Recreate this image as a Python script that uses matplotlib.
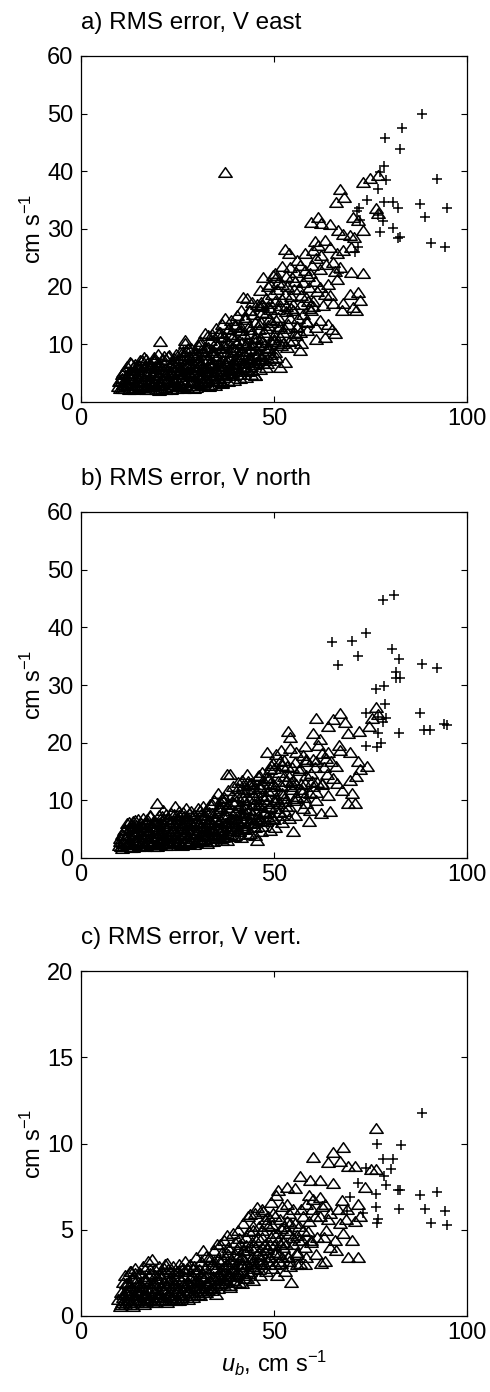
import matplotlib
matplotlib.use("Agg")
import matplotlib.pyplot as plt
from matplotlib.path import Path

plt.rcParams['font.family'] = ['Liberation Sans', 'DejaVu Sans']
plt.rcParams['mathtext.fontset'] = 'custom'
plt.rcParams['mathtext.rm'] = 'Liberation Sans'
plt.rcParams['mathtext.it'] = 'Liberation Sans:italic'

# ---------------- data (u_b, RMS error) ----------------
east_tri = [
 (9.5,2.8),(9.8,3.6),(10.2,2.5),(10.5,4.2),(10.8,3.2),(11,5.2),(11.2,2.4),(11.5,4.0),(11.8,6.3),(12,3.0),
 (12.3,5.0),(12.5,2.3),(12.8,4.4),(13,6.8),(13.2,3.5),(13.5,2.6),(13.8,5.5),(14,4.2),(14.2,3.0),(14.5,6.2),
 (14.8,2.4),(15,5.0),(15.3,7.2),(15.5,3.6),(15.8,4.6),(16,2.6),(16.3,6.0),(16.5,3.2),(16.8,7.5),(17,4.5),
 (17.3,2.2),(17.5,5.6),(17.8,3.8),(18,6.6),(18.2,2.8),(18.5,4.8),(18.8,7.8),(19,3.4),(19.3,5.9),(19.5,2.3),
 (19.8,4.2),(20,6.9),(20.2,3.0),(20.5,10.5),(20.8,5.2),(21,2.5),(21.3,7.5),(21.5,3.8),(21.8,5.8),(22,2.2),
 (22.3,4.6),(22.5,8.0),(22.8,3.2),(23,6.3),(23.3,2.7),(23.5,5.0),(23.8,7.0),(24,3.6),(24.3,4.3),(24.5,8.4),
 (24.8,2.5),(25,6.0),(25.3,3.3),(25.5,5.4),(25.8,7.6),(26,2.8),(26.3,4.8),(26.5,8.8),(26.8,3.8),(27,10.2),
 (27.3,6.5),(27.5,2.6),(27.8,5.2),(28,7.9),(28.3,3.5),(28.5,9.3),(28.8,4.5),(29,6.8),(29.3,2.5),(29.5,5.8),
 (29.8,8.6),(30,3.6),(30.3,7.2),(30.5,4.8),(30.8,10.0),(31,3.0),(31.3,6.0),(31.5,8.8),(31.8,4.2),(32,12.0),
 (32.2,5.4),(32.5,9.6),(32.8,3.6),(33,7.4),(33.3,10.8),(33.5,4.8),(33.8,6.4),(34,11.8),(34.3,3.8),(34.5,8.2),
 (34.8,5.6),(35,12.8),(35.3,9.8),(35.5,4.2),(35.8,7.0),(36,11.2),(36.3,5.6),(36.5,13.5),(36.8,8.6),(37,4.4),
 (37.3,14.6),(37.5,6.4),(37.8,10.4),(38,12.6),(38.3,5.0),(38.5,8.0),(38.8,14.2),(39,6.8),(39.3,11.4),(39.5,4.6),
 (39.8,9.2),(40,13.2),(40.3,6.0),(40.5,15.0),(40.8,7.6),(41,10.8),(41.3,4.8),(41.5,12.4),(41.8,8.8),(42,18.2),
 (42.3,6.2),(42.5,14.4),(42.8,10.0),(43,18.0),(43.3,5.4),(43.5,16.0),(43.8,7.8),(44,12.0),(44.3,9.4),(44.5,15.2),
 (44.8,6.6),(45,4.6),(45.3,11.2),(45.5,17.0),(45.8,8.4),(46,13.6),(46.3,19.4),(46.5,5.8),(46.8,10.4),(47,15.6),
 (47.2,21.7),(47.5,7.2),(47.8,12.8),(48,18.0),(48.3,6.7),(48.5,9.6),(48.8,16.4),(49,20.4),(49.3,8.4),(49.5,13.8),
 (49.8,22.0),(50,11.0),(50.3,17.6),(50.5,7.8),(50.8,19.6),(51,14.8),(51.1,20.8),(51.5,6.1),(51.8,9.8),(52,23.6),
 (52.3,12.2),(52.8,7.0),(52.9,26.6),(53,16.6),(53.3,20.2),(53.8,25.8),(54,10.6),(54.1,23.4),(54.5,18.4),(55,15.9),
 (55,10.7),(55.5,21.0),(56,13.2),(56.7,23.7),(56.7,9.0),(57,18.6),(57.1,10.2),(57.5,15.3),(58,25.8),(58,22.9),
 (58.5,12.4),(59,20.0),(59.2,22.3),(59.7,31.2),(59.7,15.9),(60,17.6),(60.5,28.0),(61,24.9),(61,11.0),(61.4,32.1),
 (61.4,27.2),(61.9,20.0),(61.9,14.2),(62.3,31.0),(62.3,25.5),(63.2,28.1),(63.2,18.8),(63.2,11.3),(64,20.5),(64,13.6),
 (64.5,30.8),(64.5,26.9),(64.9,12.7),(65.3,24.3),(65.3,17.1),(65.7,11.9),(66,34.7),(66.2,25.8),(66.2,21.4),(66.6,29.8),
 (67,37.0),(67,23.4),(67.5,15.9),(68.2,35.6),(67.9,29.2),(67.9,26.3),(67.9,17.1),(69.6,28.9),(69.6,18.8),(70,26.9),
 (70,22.6),(70.5,32.1),(70.5,16.5),(70.7,28.6),(71.3,15.9),(71.8,31.5),(71.8,19.1),(72.2,17.7),(73.1,38.2),(73.1,29.8),
 (73.1,22.3),(74.8,38.8),(76.5,33.6),(77,39.4),(77,32.7),(37.3,39.9),(26.9,10.7),(30.8,3.8),(45.0,4.6),(47.2,6.7),
]
east_tri_core = [
 (10.6,2.4),(12.1,2.9),(13.7,2.2),(15.2,2.7),(16.9,2.3),(18.4,2.8),(20.1,2.1),(21.7,2.6),(23.4,2.3),(25.1,2.9),
 (26.6,2.4),(28.2,3.0),(29.9,2.6),(31.6,3.1),(33.2,2.8),
 (10.1,3.9),(11.7,3.5),(13.1,4.3),(14.6,3.7),(16.2,4.1),(17.7,3.6),(19.4,4.4),(20.9,3.8),(22.6,4.2),(24.2,3.5),
 (25.9,4.0),(27.4,4.5),(29.1,3.7),(30.7,4.3),(32.4,3.9),(34.1,4.6),(35.7,3.8),(37.4,4.9),(39.1,5.2),
 (11.4,5.6),(12.9,5.1),(14.4,5.8),(16.0,5.3),(17.6,6.0),(19.1,5.2),(20.7,5.7),(22.2,5.4),(23.9,6.1),(25.4,5.5),
 (27.0,5.9),(28.6,5.3),(30.2,6.2),(31.9,5.6),(33.6,6.0),(35.2,5.4),(36.9,6.3),(38.6,5.8),(40.2,6.6),(41.9,6.1),(43.6,6.9),
 (12.6,7.0),(14.1,6.6),(15.7,7.3),(17.2,6.8),(18.9,7.1),(20.4,6.5),(22.0,7.4),(23.6,6.9),(25.2,7.2),(26.9,6.7),
 (28.4,7.5),(30.1,7.0),(31.7,7.3),(33.4,6.8),(35.0,7.6),(36.7,7.2),(38.3,7.7),(40.0,7.4),(41.7,8.0),(43.4,7.6),
 (45.1,8.2),(46.7,7.9),
 (19.9,8.4),(22.9,8.1),(25.6,8.7),(28.9,8.3),(31.2,9.0),(33.8,8.6),(36.2,9.3),(38.9,8.8),(41.3,9.6),(43.9,9.1),
 (46.2,9.8),(48.6,9.3),(50.9,10.2),
 (30.9,10.6),(34.6,10.2),(37.1,11.4),(39.6,10.8),(42.2,11.8),(44.7,11.1),(47.4,12.2),(49.9,11.6),(52.6,12.8),(55.4,12.0),
 (39.9,13.6),(42.6,14.8),(45.2,13.9),(47.9,15.4),(50.4,14.2),(53.1,15.8),(56.2,14.6),(59.1,16.3),
 (46.6,17.4),(49.4,18.8),(52.2,17.8),(55.1,19.6),(58.3,18.2),(61.2,19.2),
]
east_tri_fill = [
 (11.0,3.1),(12.6,3.4),(14.2,3.2),(15.8,3.5),(17.4,3.0),(19.0,3.3),(20.6,3.1),(22.2,3.5),(23.8,3.2),(25.4,3.4),
 (27.0,3.1),(28.6,3.6),(30.2,3.3),(31.8,3.5),(33.4,3.2),(35.0,3.7),(36.6,3.4),
 (10.6,4.8),(12.2,4.6),(13.8,5.0),(15.4,4.7),(17.0,5.1),(18.6,4.6),(20.2,4.9),(21.8,4.7),(23.4,5.2),(25.0,4.8),
 (26.6,5.0),(28.2,4.7),(29.8,5.3),(31.4,4.9),(33.0,5.2),(34.6,4.8),(36.2,5.4),(37.8,5.0),(39.4,5.6),(41.0,5.3),
 (42.6,5.8),(44.2,5.5),
 (13.4,6.0),(15.0,6.4),(16.6,6.1),(18.2,6.5),(19.8,6.2),(21.4,6.6),(23.0,6.3),(24.6,6.7),(26.2,6.2),(27.8,6.6),
 (29.4,6.4),(31.0,6.8),(32.6,6.3),(34.2,6.9),(35.8,6.5),(37.4,7.0),(39.0,6.6),(40.6,7.2),(42.2,6.8),(43.8,7.4),
 (45.4,7.0),(47.0,7.6),(48.6,7.3),
 (16.4,7.8),(19.0,7.5),(21.6,8.0),(24.2,7.7),(26.8,8.2),(29.6,7.8),(32.4,8.4),(35.2,8.0),(37.8,8.6),(40.6,8.3),
 (43.0,8.8),(45.8,8.5),(48.0,9.0),(50.2,8.7),
 (27.8,9.4),(30.2,9.8),(32.8,9.5),(35.4,10.0),(37.6,9.6),(40.2,10.2),(42.6,9.9),(45.0,10.4),(47.6,10.1),(50.0,10.6),
 (52.4,10.3),
 (36.0,12.2),(38.4,12.8),(41.0,12.4),(43.4,13.1),(46.0,12.6),(48.4,13.3),(51.0,12.8),(53.6,13.6),(56.0,13.0),(58.6,13.8),
 (43.8,16.0),(46.4,16.6),(49.0,16.1),(51.6,16.8),(54.4,16.3),(57.0,17.0),(60.2,16.6),
 (50.2,22.4),(53.0,21.8),(55.8,22.6),(58.8,21.9),
]
east_tri_mid = [
 (34.8,3.0),(36.4,3.3),(38.0,3.6),(39.6,3.9),(41.2,4.2),(42.8,4.4),(44.0,4.8),
 (26.1,5.8),(29.0,6.1),(31.5,5.9),(34.0,6.6),(36.0,5.9),(38.0,6.9),(40.0,5.9),(42.0,7.0),(44.0,6.2),(46.0,7.3),
 (48.0,6.1),(49.6,7.6),
 (27.3,9.0),(30.0,8.2),(32.0,9.3),(34.3,9.0),(36.8,9.9),(39.2,9.6),(41.6,10.4),(44.2,10.0),(46.6,10.9),(49.2,10.5),
 (51.6,11.2),(53.4,9.6),(55.8,11.6),
 (33.0,11.6),(35.6,12.0),(38.6,11.8),(41.4,13.0),(43.8,12.6),(46.6,13.8),(48.8,14.4),(51.6,13.2),(54.2,14.6),(56.8,12.2),
 (58.4,14.0),(60.8,13.0),
 (41.4,16.0),(44.2,17.4),(46.8,16.8),(49.0,17.2),(51.0,16.2),(52.8,18.8),(54.8,17.0),(56.6,19.6),(58.8,17.6),(60.6,21.0),
 (62.6,16.8),(64.6,18.6),
 (48.4,20.2),(50.6,21.6),(52.0,20.4),(54.6,21.6),(56.0,24.6),(57.4,20.8),(59.8,23.8),(62.0,23.0),(63.6,24.0),(65.8,22.8),
 (60.2,26.4),
]
east_plus = [
 (88.4,49.9),(83.2,47.6),(78.7,45.8),(82.6,43.8),(78.6,41.0),(77.4,39.8),(79.0,38.5),(92.1,38.7),(77.0,36.9),(74.2,35.1),
 (78.4,34.6),(80.8,34.6),(82.0,33.6),(87.7,34.3),(94.7,33.7),(89.2,32.1),(78.3,31.4),(80.8,30.2),(77.4,29.4),(82.6,28.6),
 (82.1,28.4),(90.6,27.5),(94.2,26.9),(71.9,33.6),(72.2,31.5),(71.7,26.9),(70.9,26.0),(66.8,22.4),(77.0,32.4),(71.5,33.1),
]

north_tri = [
 (9.8,2.2),(10.2,3.0),(10.5,1.8),(10.8,4.0),(11,2.6),(11.3,5.0),(11.5,3.4),(11.8,2.0),(12,6.0),(12.3,4.2),
 (12.5,2.8),(12.8,5.4),(13,1.9),(13.3,3.6),(13.5,6.4),(13.8,4.6),(14,2.4),(14.3,5.8),(14.5,3.2),(14.8,6.8),
 (15,2.0),(15.3,4.4),(15.5,5.6),(15.8,2.8),(16,7.0),(16.3,3.8),(16.5,5.0),(16.8,2.2),(17,6.2),(17.3,3.4),
 (17.5,4.8),(17.8,7.2),(18,2.6),(18.3,5.6),(18.5,3.8),(18.8,6.6),(19,2.0),(19.3,4.4),(19.6,9.6),(19.8,5.6),
 (20,3.0),(20.3,7.4),(20.5,2.4),(20.8,4.8),(21,6.4),(21.3,8.4),(21.5,3.4),(21.8,5.2),(22,2.2),(22.3,7.0),
 (22.5,4.0),(22.8,6.0),(23,2.8),(23.3,7.8),(23.5,4.6),(23.8,3.4),(24,5.8),(24.3,9.0),(24.5,2.6),(24.8,6.8),
 (25,4.2),(25.3,3.0),(25.5,7.4),(25.8,5.2),(26,2.4),(26.3,8.0),(26.5,4.0),(26.8,6.2),(27,3.0),(27.3,8.7),
 (27.5,5.0),(27.8,7.0),(28,2.6),(28.3,4.4),(28.5,8.2),(28.8,5.8),(29,3.4),(29.3,7.4),(29.5,4.8),(29.8,2.8),
 (30,6.4),(30.3,8.6),(30.5,3.8),(30.8,5.4),(31,7.6),(31.3,3.2),(31.5,9.0),(31.8,4.6),(32,6.8),(32.3,3.0),
 (32.5,8.2),(32.8,5.2),(33,4.0),(33.3,9.4),(33.5,6.2),(33.8,3.4),(34,7.8),(34.3,5.0),(34.5,10.0),(34.8,4.2),
 (35,6.8),(35.5,11.3),(35.3,3.6),(35.8,8.4),(36,5.4),(36.3,9.6),(36.5,4.4),(36.8,7.2),(37,10.6),(37.3,3.8),
 (37.7,14.5),(37.5,6.0),(37.8,8.8),(38,11.8),(38.3,4.8),(38.6,14.5),(38.8,7.0),(39,9.8),(39.3,5.6),(39.5,12.4),
 (39.8,4.0),(40,8.0),(40.3,10.8),(40.5,6.4),(40.8,13.2),(41,4.6),(41.3,9.2),(41.6,13.6),(41.8,7.4),(42,11.4),
 (42.3,5.2),(42.9,14.5),(42.5,8.6),(43,12.0),(43.3,6.0),(43.5,10.2),(43.8,4.4),(44,13.0),(44.3,7.8),(44.6,12.8),
 (44.8,9.4),(45,5.4),(45.5,3.2),(45.3,11.4),(45.8,14.2),(46,7.0),(46.3,9.8),(46.5,12.2),(46.8,5.6),(47,15.0),
 (47.2,13.6),(47.5,8.2),(47.8,10.8),(48,6.4),(48.1,18.3),(48.3,14.0),(48.5,11.6),(48.9,4.9),(49,9.0),(49.3,16.2),
 (49.5,7.0),(49.8,12.8),(50,15.6),(50.3,5.4),(50.6,18.0),(50.8,10.2),(51,13.4),(51.3,8.0),(51.5,16.8),(51.9,18.8),
 (52,6.2),(52.3,11.0),(52.5,14.2),(53,9.0),(53.3,16.0),(53.7,22.0),(54.1,20.9),(54.1,19.1),(54.5,12.4),(55,4.6),
 (55,13.6),(55.5,7.4),(55.8,18.3),(56,10.4),(56.5,15.2),(57.1,11.9),(57.5,8.6),(58,13.0),(58.4,16.8),(59,6.4),
 (59.3,11.3),(59.3,8.4),(60.1,21.7),(60.5,15.7),(61,24.3),(61,10.0),(62,20.6),(62.3,7.8),(62.5,13.0),(63.9,22.9),
 (63.9,18.3),(64.5,8.1),(65.3,24.1),(65.3,13.9),(66.2,13.0),(67,25.2),(67,18.8),(68.3,23.5),(69.1,21.7),(69.6,18.3),
 (69.6,13.6),(69.2,9.6),(70.1,11.3),(70.9,9.6),(71.3,14.2),(71.8,16.8),(72.1,22.0),(72.2,15.4),(74.0,15.9),(74.6,22.9),
 (75.5,24.3),(76.5,26.1),(77,24.9),(66,16.0),(64,11.0),(60,12.5),(58,19.5),(63,15.8),(67.5,11.8),
]
north_tri_core = [
 (10.4,2.0),(11.9,2.4),(13.4,1.9),(15.0,2.3),(16.6,2.0),(18.1,2.5),(19.7,2.1),(21.3,2.6),(22.9,2.2),(24.5,2.7),
 (26.1,2.3),(27.7,2.8),(29.3,2.4),(30.9,2.9),(32.6,2.6),
 (10.0,3.4),(11.6,3.0),(13.1,3.7),(14.7,3.2),(16.2,3.8),(17.8,3.1),(19.4,3.6),(20.9,3.3),(22.5,3.9),(24.1,3.2),
 (25.7,3.7),(27.3,3.4),(28.9,3.9),(30.5,3.3),(32.1,3.8),(33.7,3.5),(35.3,4.0),(36.9,3.6),(38.5,4.2),
 (11.2,4.8),(12.7,5.2),(14.3,4.6),(15.9,5.3),(17.4,4.7),(19.0,5.1),(20.6,4.5),(22.2,5.2),(23.8,4.9),(25.4,5.4),
 (27.0,4.6),(28.6,5.1),(30.2,4.8),(31.8,5.5),(33.4,4.9),(35.0,5.3),(36.6,5.0),(38.2,5.6),(39.8,5.2),(41.4,5.8),
 (43.0,5.4),(44.6,6.0),
 (12.4,6.2),(14.0,6.6),(15.6,6.1),(17.1,6.7),(18.7,6.3),(20.3,6.0),(21.9,6.8),(23.5,6.4),(25.1,6.9),(26.7,6.3),
 (28.3,6.6),(29.9,6.2),(31.5,6.9),(33.1,6.5),(34.7,7.0),(36.3,6.6),(37.9,7.2),(39.5,6.8),(41.1,7.4),(42.7,7.0),
 (44.3,7.6),(45.9,7.2),(47.5,7.8),
 (22.1,7.7),(25.3,8.2),(28.1,7.8),(30.7,8.4),(33.2,8.0),(35.9,8.7),(38.4,8.3),(40.9,8.9),(43.6,8.5),(46.1,9.2),
 (48.7,8.8),(51.2,9.5),(53.8,9.0),
 (36.4,10.4),(39.2,11.0),(41.9,10.6),(44.4,11.5),(47.0,11.0),(49.6,11.8),(52.1,11.2),(54.7,12.0),(57.3,11.4),
 (43.2,13.4),(46.0,14.4),(48.8,13.8),(51.4,15.0),(54.0,14.2),(56.8,15.6),(59.6,14.8),
]
north_tri_fill = [
 (11.0,2.7),(12.6,3.0),(14.2,2.6),(15.8,2.9),(17.4,2.7),(19.0,3.0),(20.6,2.8),(22.2,3.1),(23.8,2.8),(25.4,3.2),
 (27.0,2.9),(28.6,3.2),(30.2,2.9),(31.8,3.3),(33.4,3.0),(35.0,3.4),(36.6,3.1),
 (10.6,4.2),(12.2,4.0),(13.8,4.4),(15.4,4.1),(17.0,4.3),(18.6,4.0),(20.2,4.4),(21.8,4.1),(23.4,4.3),(25.0,4.0),
 (26.6,4.4),(28.2,4.2),(29.8,4.5),(31.4,4.2),(33.0,4.6),(34.6,4.3),(36.2,4.7),(37.8,4.4),(39.4,4.8),(41.0,4.6),
 (42.6,5.0),
 (13.4,5.8),(15.0,5.5),(16.6,5.9),(18.2,5.6),(19.8,6.0),(21.4,5.7),(23.0,6.1),(24.6,5.8),(26.2,6.0),(27.8,5.7),
 (29.4,6.1),(31.0,5.8),(32.6,6.2),(34.2,5.9),(35.8,6.3),(37.4,6.0),(39.0,6.4),(40.6,6.1),(42.2,6.6),(43.8,6.3),
 (45.4,6.8),(47.0,6.5),(48.6,7.0),
 (18.0,7.4),(21.0,7.2),(24.0,7.6),(26.8,7.3),(29.4,7.7),(32.0,7.4),(34.6,7.9),(37.2,7.6),(39.8,8.1),(42.4,7.8),
 (45.0,8.3),(47.6,8.0),(50.2,8.6),(52.8,8.2),
 (34.0,9.4),(36.8,9.8),(39.6,9.5),(42.2,10.0),(44.8,9.6),(47.4,10.2),(50.0,9.8),(52.6,10.4),(55.2,10.0),(57.8,10.6),
 (40.6,12.2),(43.6,12.8),(46.4,12.4),(49.0,13.0),(51.8,12.6),(54.4,13.2),(57.0,12.8),(59.8,13.4),(62.4,12.9),
 (49.8,16.4),(52.6,17.0),(55.4,16.6),(58.2,17.2),(61.0,16.8),(63.6,17.4),
]
north_tri_mid = [
 (34.2,3.0),(36.0,3.5),(37.8,3.2),(39.6,3.8),(41.4,3.6),(43.2,4.2),(45.0,4.0),(46.6,4.6),
 (30.6,6.0),(33.0,6.0),(35.4,6.2),(38.0,6.2),(40.2,6.9),(42.0,6.4),(44.0,7.0),(46.4,6.6),(48.2,7.2),(50.0,6.8),
 (52.0,7.5),(54.0,7.0),
 (36.0,9.0),(38.0,9.4),(40.2,9.9),(42.8,9.4),(45.2,10.4),(47.8,9.6),(50.4,10.6),(52.8,9.8),(55.6,10.8),(58.4,9.6),
 (60.8,11.4),
 (42.0,12.6),(44.6,12.2),(47.2,12.8),(50.2,12.4),(53.0,13.4),(55.6,12.8),(58.4,14.4),(61.2,13.2),(63.8,14.6),
 (49.0,15.4),(52.0,16.2),(54.6,15.8),(57.6,17.8),(60.0,17.2),(62.4,18.2),(64.8,16.8),(66.8,19.6),(61.4,19.6),
]
north_plus = [
 (78.3,44.8),(81.0,45.6),(64.9,37.4),(70.2,37.7),(73.9,39.0),(66.6,33.4),(71.8,35.0),(80.6,36.3),(82.4,34.5),(81.7,32.2),
 (82.6,31.3),(81.7,31.3),(88.4,33.6),(92.2,32.9),(78.5,29.9),(76.5,29.3),(78.7,26.7),(79.1,24.2),(78.3,23.5),(73.9,25.2),
 (87.7,25.1),(88.8,22.2),(90.3,22.2),(94.0,23.2),(94.8,23.0),(82.4,21.7),(77.0,21.7),(77.6,20.0),(76.7,19.3),(73.9,19.5),
 (77.0,24.4),
]

vert_tri = [
 (9.5,1.0),(10,0.6),(10.3,1.4),(10.6,0.8),(10.8,2.0),(11,1.1),(11.3,0.7),(11.5,2.4),(11.8,1.5),(12,0.9),
 (12.3,2.0),(12.5,1.2),(12.8,2.6),(13,0.8),(13.3,1.7),(13.5,2.2),(13.8,1.0),(14,2.8),(14.3,1.4),(14.5,0.8),
 (14.8,2.0),(15,1.2),(15.3,2.5),(15.5,0.9),(15.8,1.7),(16,2.9),(16.3,1.1),(16.5,2.2),(16.8,0.8),(17,1.5),
 (17.3,3.2),(17.5,1.9),(17.8,1.0),(18,2.5),(18.3,3.3),(18.5,1.3),(18.8,2.0),(19,0.9),(19.3,2.7),(19.5,1.6),
 (19.8,1.1),(20,2.2),(20.3,2.9),(20.5,1.3),(20.8,1.8),(21,0.9),(21.3,2.5),(21.5,1.5),(21.8,3.0),(22,1.1),
 (22.2,3.1),(22.5,2.0),(22.8,1.4),(23,2.6),(23.3,1.0),(23.5,1.8),(23.8,2.9),(24,1.3),(24.3,2.2),(24.5,1.0),
 (24.8,2.6),(25,1.6),(25.3,3.0),(25.5,1.2),(25.8,2.1),(26,1.0),(26.3,2.8),(26.5,1.5),(26.8,2.3),(27,3.2),
 (27.3,1.2),(27.5,2.0),(27.8,2.7),(28,1.4),(28.3,3.0),(28.5,1.8),(28.8,2.4),(29,1.1),(29.3,2.9),(29.5,1.6),
 (29.8,3.4),(30,2.2),(30.3,1.3),(30.5,2.7),(30.8,1.8),(31,3.2),(31.3,2.3),(31.7,3.8),(31.5,1.4),(32,2.8),
 (32.3,1.9),(32.5,3.5),(32.8,1.5),(33,2.5),(33.3,3.3),(33.5,2.0),(33.8,1.6),(34,3.0),(34.3,2.3),(34.5,3.8),
 (34.8,1.8),(35.1,1.3),(35,2.8),(35.3,4.2),(35.5,2.1),(35.9,4.2),(36,3.2),(36.3,1.9),(36.5,3.7),(36.8,2.5),
 (37,4.4),(37.3,2.0),(37.7,4.7),(37.5,3.0),(38,2.4),(38.3,3.9),(38.5,1.8),(38.8,3.3),(39,2.6),(39.4,4.8),
 (39.5,2.1),(39.8,3.6),(40,4.3),(40.3,2.4),(40.5,3.1),(40.8,5.0),(41,2.0),(41.2,4.2),(41.5,3.4),(41.8,2.6),
 (42,5.4),(42.3,3.8),(42.5,2.2),(42.8,4.6),(43,3.0),(43.3,5.8),(43.7,5.9),(43.5,2.5),(44,4.0),(44.3,3.4),
 (44.5,5.0),(44.8,2.8),(45,6.0),(45.5,6.3),(45.3,4.4),(45.8,3.2),(46,5.2),(46.3,2.4),(46.5,3.8),(46.8,6.2),
 (47.2,6.1),(47,4.6),(47.5,3.0),(47.8,5.4),(48,2.6),(48.3,4.0),(48.5,5.8),(48.9,4.2),(49,3.4),(49.3,6.6),
 (49.8,6.0),(49.5,2.8),(50,4.8),(50.3,3.6),(50.5,7.0),(50.8,2.4),(51.1,7.3),(51,4.4),(51.5,5.6),(51.9,3.1),
 (52,6.4),(52.4,4.0),(52.8,2.6),(53.3,7.5),(53.3,6.5),(53,5.0),(53.5,3.4),(54,6.0),(54.1,2.9),(54.5,2.0),
 (54.8,4.6),(55.4,7.4),(55.5,5.4),(56,3.6),(56.7,8.1),(56.7,3.1),(57,6.2),(57.5,5.0),(58,4.0),(58.4,6.5),
 (59,7.0),(59.3,7.9),(59.7,4.4),(60.1,9.2),(60.5,5.8),(61,3.6),(61.9,7.9),(61.9,6.9),(61.9,5.8),(62.3,3.1),
 (63.2,6.5),(63.2,3.2),(64,8.9),(64,5.6),(64.5,4.0),(65.3,9.5),(65.3,7.7),(65.7,4.4),(67,9.0),(67,5.4),
 (67.5,6.7),(67.9,9.8),(69.2,8.7),(69.2,3.4),(70.1,4.4),(70.9,8.7),(70.9,5.5),(71.8,6.5),(71.8,3.4),(72.2,5.8),
 (73.5,7.5),(75.2,8.5),(76.5,8.5),(76.5,10.9),(66,3.8),(68,4.8),(63,4.6),(60,6.8),(58,3.0),(69,6.2),
]
vert_tri_core = [
 (10.4,0.7),(11.9,0.9),(13.4,0.6),(14.9,0.9),(16.4,0.7),(17.9,1.0),(19.4,0.8),(20.9,1.0),(22.4,0.8),(23.9,1.0),(25.4,0.9),
 (10.9,1.3),(12.4,1.5),(13.9,1.2),(15.4,1.4),(16.9,1.2),(18.4,1.6),(19.9,1.3),(21.4,1.5),(22.9,1.2),(24.4,1.6),
 (25.9,1.3),(27.4,1.5),(28.9,1.4),(30.4,1.6),(31.9,1.5),
 (11.7,1.9),(13.2,2.2),(14.7,1.8),(16.2,2.1),(17.7,2.3),(19.2,1.9),(20.7,2.2),(22.2,1.8),(23.7,2.1),(25.2,2.3),
 (26.7,1.9),(28.2,2.2),(29.7,2.0),(31.2,2.3),(32.7,2.0),(34.2,2.2),(35.7,2.4),(37.2,2.1),(38.7,2.3),(40.2,2.5),
 (14.1,2.5),(16.6,2.7),(19.1,2.4),(21.6,2.8),(24.1,2.5),(26.6,2.6),(29.1,2.7),(31.6,2.5),(34.1,2.8),(36.6,2.7),
 (39.1,3.0),(41.6,2.9),(44.1,3.1),(46.6,3.3),
 (33.1,3.4),(35.6,3.3),(38.1,3.6),(40.6,3.5),(43.1,3.8),(45.6,3.6),(48.1,3.9),(50.6,3.7),(53.1,4.2),
 (40.9,4.5),(43.4,4.9),(45.9,4.6),(48.4,5.2),(50.9,4.8),(53.4,5.5),(55.9,4.7),
]
vert_tri_fill = [
 (11.2,0.9),(12.7,0.7),(14.2,1.0),(15.7,0.8),(17.2,1.0),(18.7,0.8),(20.2,1.1),(21.7,0.9),(23.2,1.1),(24.7,0.9),
 (26.2,1.1),(27.7,1.0),(29.2,1.2),
 (11.6,1.4),(13.1,1.3),(14.6,1.5),(16.1,1.3),(17.6,1.5),(19.1,1.4),(20.6,1.6),(22.1,1.4),(23.6,1.6),(25.1,1.5),
 (26.6,1.7),(28.1,1.5),(29.6,1.7),(31.1,1.6),(32.6,1.8),(34.1,1.7),(35.6,1.9),
 (12.4,1.8),(13.9,2.0),(15.4,1.9),(16.9,2.1),(18.4,1.9),(19.9,2.0),(21.4,1.9),(22.9,2.1),(24.4,1.9),(25.9,2.1),
 (27.4,2.0),(28.9,2.1),(30.4,2.0),(31.9,2.2),(33.4,2.1),(34.9,2.3),(36.4,2.2),(37.9,2.4),(39.4,2.3),(40.9,2.5),
 (42.4,2.4),(43.9,2.6),
 (13.0,2.6),(15.4,2.5),(17.8,2.7),(20.2,2.5),(22.6,2.7),(25.0,2.6),(27.4,2.8),(29.8,2.6),(32.2,2.8),(34.6,2.7),
 (37.0,2.9),(39.4,2.8),(41.8,3.0),(44.2,2.9),(46.6,3.1),(49.0,3.0),(51.4,3.2),
 (34.4,3.2),(36.8,3.3),(39.2,3.2),(41.6,3.4),(44.0,3.3),(46.4,3.5),(48.8,3.4),(51.2,3.6),(53.6,3.5),(56.0,3.7),
 (38.0,4.0),(40.4,3.9),(42.8,4.1),(45.2,4.0),(47.6,4.2),(50.0,4.1),(52.4,4.3),(54.8,4.2),(57.2,4.4),(59.6,4.3),
 (44.6,5.2),(47.0,5.0),(49.4,5.3),(51.8,5.1),(54.2,5.4),(56.6,5.2),(59.0,5.5),
]
vert_tri_mid = [
 (30.8,1.2),(32.4,1.4),(34.0,1.5),(35.5,1.6),(37.0,1.8),(38.6,1.7),(40.0,2.0),(41.6,1.9),(43.0,2.2),(44.6,2.1),
 (36.0,2.6),(38.2,3.0),(40.2,2.7),(42.2,3.3),(44.6,3.2),(46.2,2.7),(48.4,3.2),(50.2,3.0),(52.0,3.4),(54.0,3.2),
 (56.0,3.0),(58.2,3.4),
 (42.0,3.8),(44.4,4.3),(46.8,4.0),(49.2,4.6),(51.6,4.2),(54.0,4.8),(56.4,4.4),(58.8,4.9),(61.2,4.6),(63.6,5.0),
 (47.6,5.6),(50.2,5.8),(52.6,5.2),(55.0,6.2),(57.4,5.8),(59.8,6.2),(62.4,6.4),(64.6,6.0),(66.6,6.2),(68.6,5.6),
]
vert_plus = [
 (88.4,11.75),(76.8,10.0),(83.0,9.9),(78.3,9.1),(80.8,9.1),(73.9,8.6),(80.4,8.5),(78.6,8.1),(79.0,7.6),(71.8,7.7),
 (82.1,7.3),(82.6,7.3),(76.5,7.1),(87.9,7.0),(92.3,7.2),(76.5,6.3),(82.3,6.2),(89.0,6.2),(94.2,6.1),(77.0,5.6),
 (76.8,5.4),(90.6,5.4),(94.9,5.3),(69.6,6.9),(73.1,6.0),(68.8,6.1),
]

titles = ["a) RMS error, V east", "b) RMS error, V north", "c) RMS error, V vert."]
ylims = [(0, 60), (0, 60), (0, 20)]
yticks = [[0, 10, 20, 30, 40, 50, 60], [0, 10, 20, 30, 40, 50, 60], [0, 5, 10, 15, 20]]
xticks = [0, 50, 100]

# ---------------- figure ----------------
W, H = 490, 1392
fig = plt.figure(figsize=(W / 100, H / 100), dpi=100)

tri = Path([(-1, -0.72), (1, -0.72), (0, 0.72), (-1, -0.72)],
           [Path.MOVETO, Path.LINETO, Path.LINETO, Path.CLOSEPOLY])

boxes = [(56, 402), (512, 858), (971, 1316)]  # top, bottom in pixels
left, right = 81, 467
datasets = [(east_tri + east_tri_core + east_tri_fill + east_tri_mid, east_plus),
            (north_tri + north_tri_core + north_tri_fill + north_tri_mid, north_plus),
            (vert_tri + vert_tri_core + vert_tri_fill + vert_tri_mid, vert_plus)]

for i, ((top, bot), (tris, pluses)) in enumerate(zip(boxes, datasets)):
    ax = fig.add_axes([left / W, 1 - bot / H, (right - left) / W, (bot - top) / H])
    tx, ty = zip(*tris)
    px, py = zip(*pluses)
    ax.plot(tx, ty, linestyle='none', marker=tri, markersize=9.6,
            markerfacecolor='none', markeredgecolor='black', markeredgewidth=1.1)
    ax.plot(px, py, linestyle='none', marker='+', markersize=7.2,
            color='black', markeredgewidth=1.1)
    ax.set_xlim(0, 100)
    ax.set_ylim(*ylims[i])
    ax.set_xticks(xticks)
    ax.set_yticks(yticks[i])
    ax.tick_params(direction='in', top=True, right=True, length=4, width=0.8,
                   labelsize=17)
    ax.tick_params(axis='x', pad=4.5)
    ax.tick_params(axis='y', pad=5.5)
    for s in ax.spines.values():
        s.set_linewidth(0.9)
    ax.set_ylabel('cm s$^{-1}$', fontsize=17, va='center')
    ax.yaxis.set_label_coords(-48 / (right - left), 0.5)
    ax.text(0, 1 + 33 / (bot - top), titles[i], transform=ax.transAxes,
            fontsize=17.5, ha='left', va='center')
    if i == 2:
        ax.set_xlabel('$u_b$, cm s$^{-1}$', fontsize=17, va='center')
        ax.xaxis.set_label_coords(0.5, -47 / (bot - top))

fig.savefig('out.png', dpi=100)
